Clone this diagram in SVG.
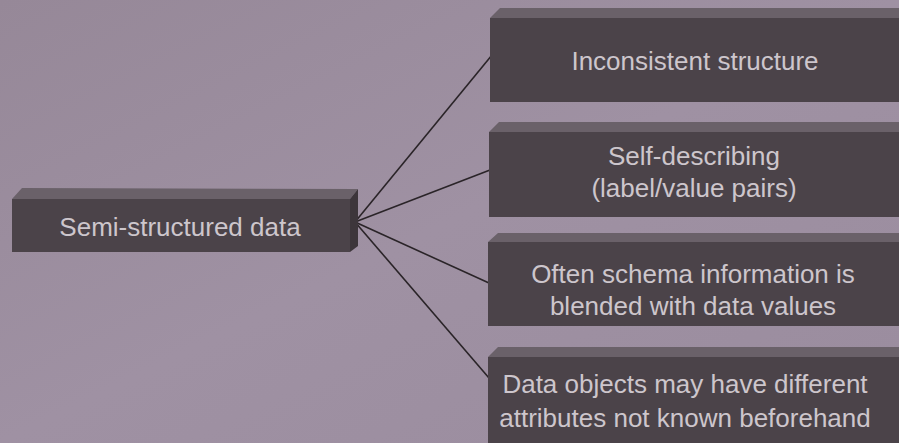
<svg xmlns="http://www.w3.org/2000/svg" width="899" height="443" viewBox="0 0 899 443">
<defs>
<linearGradient id="bg" x1="0" y1="0" x2="1" y2="1">
<stop offset="0" stop-color="#968898"/>
<stop offset="0.5" stop-color="#9f91a3"/>
<stop offset="1" stop-color="#9a8c9e"/>
</linearGradient>
</defs>
<style>
.front{fill:#4b4349}
.top{fill:#6a6169}
.side{fill:#3d363b}
.lbl{font-family:"Liberation Sans",Arial,sans-serif;font-size:26px;fill:#cdc6cc;text-anchor:middle}
.conn{stroke:#2a2428;stroke-width:1.6;fill:none}
</style>
<rect x="0" y="0" width="899" height="443" fill="url(#bg)"/>
<g id="connectors">
<line class="conn" x1="355" y1="222" x2="492" y2="55"/>
<line class="conn" x1="355" y1="222" x2="490" y2="170"/>
<line class="conn" x1="355" y1="222" x2="489" y2="283"/>
<line class="conn" x1="355" y1="222" x2="489" y2="378"/>
</g>
<g id="semi-structured">
<polygon class="top" points="12,199 22,188 358,189 350,199"/>
<polygon class="side" points="350,199 358,189 358,246 350,252"/>
<rect class="front" x="12" y="199" width="338" height="53"/>
<text class="lbl" x="180" y="236">Semi-structured data</text>
</g>
<g id="inconsistent">
<polygon class="top" points="490,18 500,8 899,8 899,18"/>
<rect class="front" x="490" y="18" width="409" height="84"/>
<text class="lbl" x="695" y="70">Inconsistent structure</text>
</g>
<g id="self-describing">
<polygon class="top" points="489,132 499,122 899,122 899,132"/>
<rect class="front" x="489" y="132" width="410" height="85"/>
<text class="lbl" x="694" y="165">Self-describing</text>
<text class="lbl" x="694" y="197">(label/value pairs)</text>
</g>
<g id="schema">
<polygon class="top" points="488,242 498,233 899,233 899,242"/>
<rect class="front" x="488" y="242" width="411" height="84"/>
<text class="lbl" x="693" y="283">Often schema information is</text>
<text class="lbl" x="693" y="315">blended with data values</text>
</g>
<g id="data-objects">
<polygon class="top" points="488,357 498,347 899,347 899,357"/>
<rect class="front" x="488" y="357" width="411" height="86"/>
<text class="lbl" x="685" y="393">Data objects may have different</text>
<text class="lbl" x="685" y="427">attributes not known beforehand</text>
</g>
</svg>
